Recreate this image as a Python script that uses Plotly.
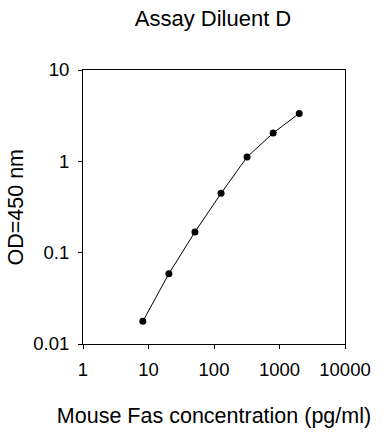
import plotly.graph_objects as go

concentration = [8.19, 20.48, 51.2, 128, 320, 800, 2000]
od450 = [0.0177, 0.0589, 0.1686, 0.446, 1.116, 2.04, 3.35]

x_ticks = [1, 10, 100, 1000, 10000]
x_ticklabels = ["1", "10", "100", "1000", "10000"]
y_ticks = [0.01, 0.1, 1, 10]
y_ticklabels = ["0.01", "0.1", "1", "10"]

FONT = "Liberation Sans, Arial, sans-serif"
L, R, T, B, W, H = 83, 39, 70, 94, 384, 438

fig = go.Figure()
fig.add_trace(go.Scatter(
    x=concentration, y=od450, mode="lines+markers",
    line=dict(color="black", width=1),
    marker=dict(color="black", size=7),
    showlegend=False,
))

fig.update_layout(
    width=W, height=H,
    margin=dict(l=L, r=R, t=T, b=B),
    paper_bgcolor="white", plot_bgcolor="white",
    font=dict(family=FONT, color="black"),
    title=dict(text="Assay Diluent D", x=213 / W, xanchor="center", y=1 - 18 / H,
               yanchor="middle", font=dict(size=22, family=FONT, color="black")),
    annotations=[dict(
        text="OD=450 nm", textangle=-90, showarrow=False,
        xref="paper", yref="paper",
        x=(15.5 - L) / (W - L - R), y=0.5, xanchor="center", yanchor="middle",
        font=dict(size=21.5, family=FONT, color="black"),
    )],
)

fig.update_xaxes(
    type="log", range=[0, 4], automargin=False,
    tickvals=x_ticks, ticktext=x_ticklabels,
    ticks="outside", ticklen=4, tickcolor="black", tickwidth=1,
    showline=True, linecolor="black", linewidth=1, mirror=True,
    showgrid=False, zeroline=False,
    tickfont=dict(size=18.5, family=FONT, color="black"),
    ticklabelstandoff=5,
    title=dict(text="Mouse Fas concentration (pg/ml)", standoff=28,
               font=dict(size=21.5, family=FONT, color="black")),
)
fig.update_yaxes(
    type="log", range=[-2, 1], automargin=False,
    tickvals=y_ticks, ticktext=y_ticklabels,
    ticks="outside", ticklen=4, tickcolor="black", tickwidth=1,
    showline=True, linecolor="black", linewidth=1, mirror=True,
    showgrid=False, zeroline=False,
    tickfont=dict(size=18.5, family=FONT, color="black"),
    ticklabelstandoff=5,
)

fig.write_html("out.html", config={"displayModeBar": False},
               post_script="document.body.style.margin='0px';document.body.style.overflow='hidden';")
